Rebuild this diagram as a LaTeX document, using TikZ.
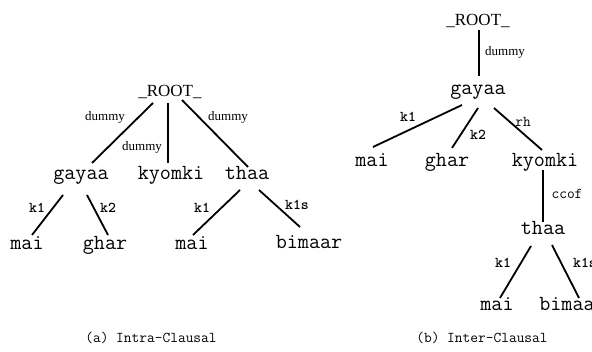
\documentclass[tikz,border=0pt]{standalone}
\usepackage{fontspec}
\setmainfont{Liberation Serif}
\usetikzlibrary{calc}
\tikzset{
 word/.style={font=\fontsize{21.5}{24}\selectfont\ttfamily, inner sep=0pt, anchor=base},
 rootw/.style={font=\fontsize{17}{20}\selectfont, inner sep=0pt, anchor=base},
 dum/.style={font=\fontsize{13}{15}\selectfont, inner sep=0pt},
 rel/.style={font=\fontsize{15}{17}\selectfont\ttfamily\bfseries, inner sep=0pt},
 relr/.style={font=\fontsize{15}{17}\selectfont\ttfamily, inner sep=0pt},
 captxt/.style={font=\fontsize{15}{17}\selectfont\ttfamily, inner sep=0pt},
 conn/.style={line width=1.8pt}
}
\begin{document}
\begin{tikzpicture}[x=1pt,y=-1pt]
\useasboundingbox (0,0) rectangle (592,352);
\clip (0,0) rectangle (592,352);
% ---------- (a) ----------
\node[rootw] (rootA) at (170,97) {\_ROOT\_};
\node[word] (gayaaA) at (81,180) {gayaa};
\node[word] (kyomkiA) at (171,180) {kyomki};
\node[word] (thaaA) at (247,180) {thaa};
\node[word] (maiA) at (27,250) {mai};
\node[word] (gharA) at (105,250) {ghar};
\node[word] (maiA2) at (192,250) {mai};
\node[word] (bimaarA) at (309,249) {bimaar};
\draw[conn] ($(rootA.base)+(-17,6)$) -- ($(gayaaA.base)+(11,-17)$);
\draw[conn] ($(rootA.base)+(-2,6)$) -- ($(kyomkiA.base)+(-3,-17)$);
\draw[conn] ($(rootA.base)+(12,3)$) -- ($(thaaA.base)+(1,-13)$);
\draw[conn] ($(gayaaA.base)+(-18,15)$) -- ($(maiA.base)+(5,-15)$);
\draw[conn] ($(gayaaA.base)+(6,15)$) -- ($(gharA.base)+(3,-15)$);
\draw[conn] ($(thaaA.base)+(-7,10)$) -- ($(maiA2.base)+(1,-15)$);
\draw[conn] ($(thaaA.base)+(12,10)$) -- ($(bimaarA.base)+(-9,-22)$);
\node[dum] (dA1) at (105,117) {dummy};
\node[dum] (dA2) at (142,147) {dummy};
\node[dum] (dA3) at (228,117) {dummy};
\node[rel] (kA1) at (37,208) {k1};
\node[rel] (kA2) at (108,208) {k2};
\node[rel] (kA3) at (202,208) {k1};
\node[rel] (kA4) at (297,205) {k1s};
\node[captxt] (capA) at (151,338) {(a) Intra-Clausal};
% ---------- (b) ----------
\node[rootw] (rootB) at (478,26) {\_ROOT\_};
\node[word] (gayaaB) at (478,95) {gayaa};
\node[word] (maiB) at (372,167) {mai};
\node[word] (gharB) at (447,167) {ghar};
\node[word] (kyomkiB) at (545,167) {kyomki};
\node[word] (thaaB) at (543,235) {thaa};
\node[word] (maiB2) at (497,311) {mai};
\node[word] (bimaarB) at (572.5,311) {bimaar};
\draw[conn] ($(rootB.base)+(1,4)$) -- ($(gayaaB.base)+(1,-19)$);
\draw[conn] ($(gayaaB.base)+(-16,10)$) -- ($(maiB.base)+(1,-20)$);
\draw[conn] ($(gayaaB.base)+(0,13)$) -- ($(gharB.base)+(5,-19)$);
\draw[conn] ($(gayaaB.base)+(16,13)$) -- ($(kyomkiB.base)+(-3,-17)$);
\draw[conn] ($(kyomkiB.base)+(-2,3)$) -- ($(thaaB.base)+(0,-13)$);
\draw[conn] ($(thaaB.base)+(-12,11)$) -- ($(maiB2.base)+(3,-13)$);
\draw[conn] ($(thaaB.base)+(9,10)$) -- ($(bimaarB.base)+(6.5,-13)$);
\node[dum] (dB1) at (505,52) {dummy};
\node[rel] (kB1) at (408,117) {k1};
\node[rel] (kB2) at (478,135) {k2};
\node[relr] (rhB) at (523,122) {rh};
\node[relr] (ccofB) at (567,194) {ccof};
\node[rel] (kB3) at (503,263) {k1};
\node[rel] (kB4) at (585,263) {k1s};
\node[captxt] (capB) at (482,338) {(b) Inter-Clausal};
\end{tikzpicture}
\end{document}
